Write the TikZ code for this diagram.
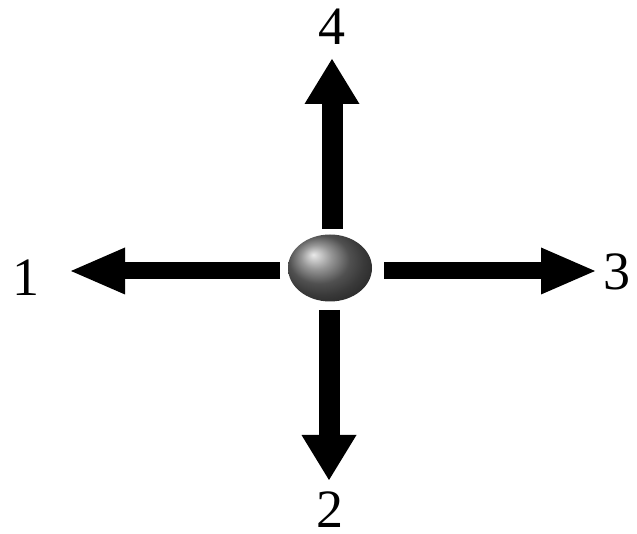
\documentclass[tikz,border=0pt]{standalone}
\usepackage{fontspec}
\setmainfont{Liberation Serif}
\usetikzlibrary{arrows.meta,shapes.geometric}
\begin{document}
\begin{tikzpicture}[x=1pt,y=1pt,
  lbl/.style={inner sep=0pt,font=\fontsize{54}{54}\selectfont},
  harrow/.style={line width=17pt,-{Triangle[length=54pt,width=47pt,line width=0pt]}},
  varrow/.style={line width=21pt,-{Triangle[length=45pt,width=55pt,line width=0pt]}}]
\useasboundingbox (0,0) rectangle (637,534);
\node[ellipse,minimum width=84pt,minimum height=67pt,inner sep=0pt,shading=ball,ball color=black!55] (ball) at (330,266) {};
\node[lbl] (n1) at (26,256) {1};
\node[lbl] (n4) at (332,507) {4};
\node[lbl] (n3) at (617,262) {3};
\node[lbl] (n2) at (330,24) {2};
\coordinate (sL) at (280,263);
\coordinate (tL) at (71,263);
\coordinate (sR) at (384,263);
\coordinate (tR) at (595,263);
\coordinate (sU) at (332,305);
\coordinate (tU) at (332,475);
\coordinate (sD) at (329,224);
\coordinate (tD) at (329,54);
\draw[harrow] (sL) -- (tL);
\draw[harrow] (sR) -- (tR);
\draw[varrow] (sU) -- (tU);
\draw[varrow] (sD) -- (tD);
\end{tikzpicture}
\end{document}
